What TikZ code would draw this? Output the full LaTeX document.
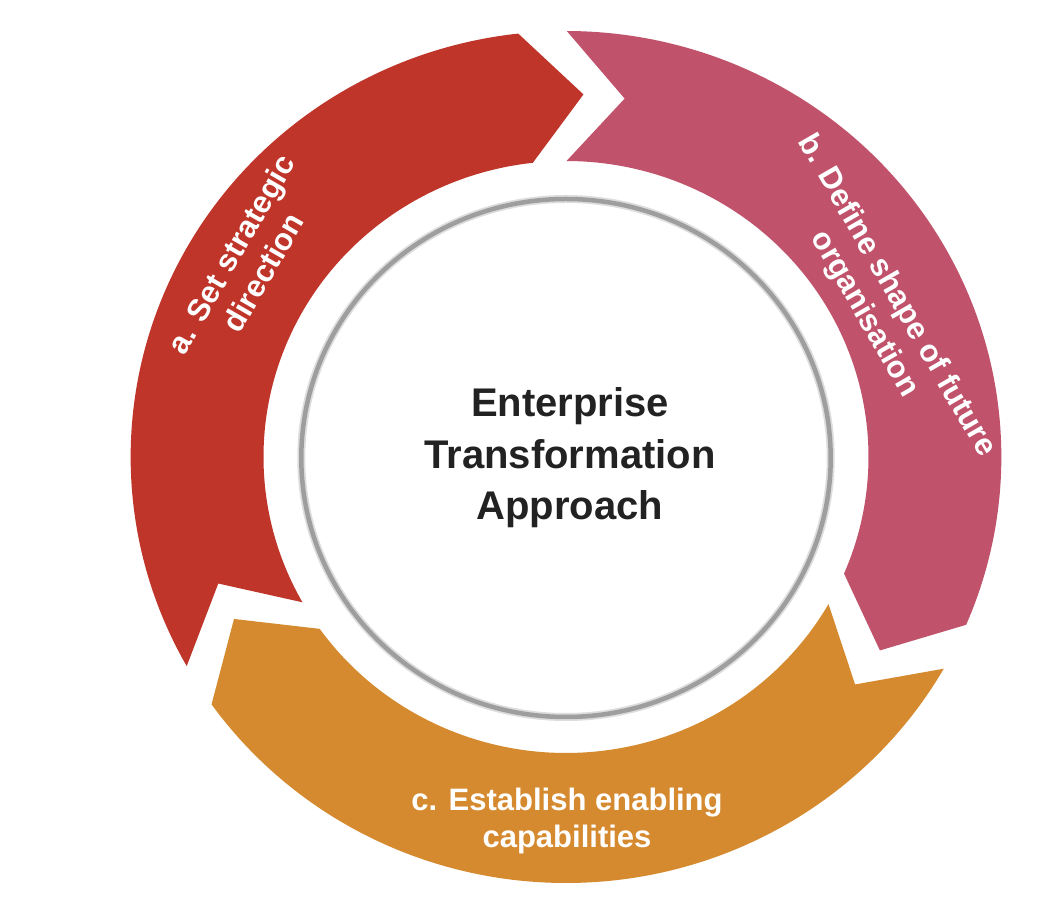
\documentclass[tikz,border=0pt]{standalone}
\usepackage{fontspec}
\setmainfont{Liberation Sans}
\definecolor{segred}{RGB}{191,53,42}
\definecolor{segpink}{RGB}{192,83,107}
\definecolor{segorange}{RGB}{213,138,47}
\definecolor{ringgray}{RGB}{158,158,158}
\definecolor{titletext}{RGB}{34,34,34}
\newcommand\Rout{426pt}
\newcommand\Rin{296pt}
\newcommand\Rmid{363pt}
\newcommand\tipd{9}
% #1 colour, #2 tail angle (counter-clockwise end), #3 head angle (clockwise end)
\newcommand\ringsegment[3]{%
  \fill[#1] (#2:\Rout) arc[start angle=#2, end angle=#3, radius=\Rout]
    -- ({#3-\tipd}:\Rmid) -- (#3:\Rin)
    arc[start angle=#3, end angle=#2, radius=\Rin]
    -- ({#2-\tipd}:\Rmid) -- cycle;}
\tikzset{
  segtext/.style={text=white, font=\fontsize{31}{37}\selectfont\bfseries, align=center, inner sep=0pt},
  titletxt/.style={text=titletext, font=\fontsize{40}{51.5}\selectfont\bfseries, align=center, inner sep=0pt},
}
\begin{document}
\begin{tikzpicture}[x=1pt,y=1pt]
  \useasboundingbox[fill=white] (-566,-463) rectangle (476,457);
  \begin{scope}[xscale=1.022]
    \ringsegment{segred}{209.4}{96.3}
    \ringsegment{segpink}{89.9}{-23.2}
    \ringsegment{segorange}{-29.8}{-144.5}
    \draw[ringgray!35, line width=8pt] (0,-1) circle[radius=259pt];
    \draw[ringgray, line width=4.5pt] (0,-1) circle[radius=259pt];
  \end{scope}
  \node[titletxt] (title) at (4,-1) {Enterprise\\Transformation\\Approach};
  \node[segtext, rotate=60] (labela) at (-319,193.6) {a. Set strategic\\direction};
  \node[segtext, rotate=-60] (labelb) at (314,152) {b. Define shape of future\\organisation};
  \node[segtext] (labelc) at (1,-363.5) {c. Establish enabling\\capabilities};
\end{tikzpicture}
\end{document}
